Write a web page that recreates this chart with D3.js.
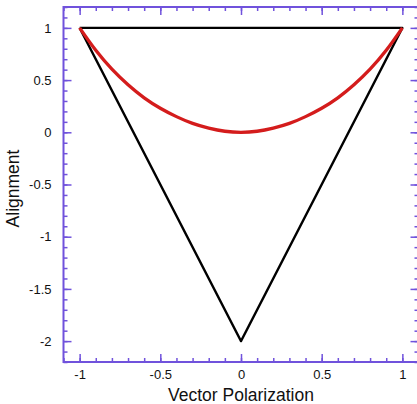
<!DOCTYPE html>
<html>
<head>
  <meta charset="utf-8">
  <title>Alignment vs Vector Polarization</title>
  <script src="https://cdnjs.cloudflare.com/ajax/libs/d3/7.8.5/d3.min.js"></script>
  <style>
    body { margin: 0; background: #fff; }
    text { font-family: "Liberation Sans", Arial, sans-serif; fill: #111; }
  </style>
</head>
<body>
  <div id="vis"></div>
  <script>
var w = 417, h = 404;
var m = {left: 63.5, right: -1.5, top: 7, bottom: 42};

// triangle boundary (black)
var triP = [-1, 1, 0, -1];
var triA = [1, 1, -2, 1];

// red curve
var curveP = [-1, -0.9, -0.8, -0.7, -0.6, -0.5, -0.4, -0.3, -0.2, -0.1, 0, 0.1, 0.2, 0.3, 0.4, 0.5, 0.6, 0.7, 0.8, 0.9, 1];
var curveA = [1, 0.785, 0.605, 0.455, 0.33, 0.23, 0.15, 0.085, 0.04, 0.01, 0, 0.01, 0.04, 0.085, 0.15, 0.23, 0.33, 0.455, 0.605, 0.785, 1];

var xTicks = [-1, -0.5, 0, 0.5, 1];
var yTicks = [1, 0.5, 0, -0.5, -1, -1.5, -2];

var axisColor = "#7052dc";

var x = d3.scaleLinear().domain([-1.1, 1.1]).range([m.left, w - m.right]);
var y = d3.scaleLinear().domain([-2.2, 1.2]).range([h - m.bottom, m.top]);

var svg = d3.select("#vis").append("svg")
  .attr("width", w)
  .attr("height", h);

var xMinor = d3.range(-11, 12).map(function(d) { return d / 10; });
var yMinor = d3.range(-22, 13).map(function(d) { return d / 10; });
var plain = function(d) { return String(d); };

function styleAxis(g) {
  g.select(".domain").remove();
  g.selectAll(".tick line").attr("stroke", axisColor).attr("stroke-width", 1.5);
  g.selectAll(".tick text").style("font-size", "13px");
}

// minor ticks, inward on all four sides
svg.append("g").attr("transform", "translate(0," + y.range()[0] + ")")
  .call(d3.axisBottom(x).tickValues(xMinor).tickSize(-4).tickFormat(""))
  .call(styleAxis);
svg.append("g").attr("transform", "translate(0," + y.range()[1] + ")")
  .call(d3.axisTop(x).tickValues(xMinor).tickSize(-4).tickFormat(""))
  .call(styleAxis);
svg.append("g").attr("transform", "translate(" + x.range()[0] + ",0)")
  .call(d3.axisLeft(y).tickValues(yMinor).tickSize(-4).tickFormat(""))
  .call(styleAxis);
svg.append("g").attr("transform", "translate(" + x.range()[1] + ",0)")
  .call(d3.axisRight(y).tickValues(yMinor).tickSize(-4).tickFormat(""))
  .call(styleAxis);

// major ticks
svg.append("g").attr("transform", "translate(0," + y.range()[0] + ")")
  .call(d3.axisBottom(x).tickValues(xTicks).tickSize(-8).tickPadding(8).tickFormat(plain))
  .call(styleAxis);
svg.append("g").attr("transform", "translate(0," + y.range()[1] + ")")
  .call(d3.axisTop(x).tickValues(xTicks).tickSize(-8).tickFormat(""))
  .call(styleAxis);
svg.append("g").attr("transform", "translate(" + x.range()[0] + ",0)")
  .call(d3.axisLeft(y).tickValues(yTicks).tickSize(-8).tickPadding(12).tickFormat(plain))
  .call(styleAxis);
svg.append("g").attr("transform", "translate(" + x.range()[1] + ",0)")
  .call(d3.axisRight(y).tickValues(yTicks).tickSize(-8).tickFormat(""))
  .call(styleAxis);

// frame
svg.append("rect")
  .attr("x", x.range()[0]).attr("y", y.range()[1])
  .attr("width", x.range()[1] - x.range()[0])
  .attr("height", y.range()[0] - y.range()[1])
  .attr("fill", "none")
  .attr("stroke", axisColor)
  .attr("stroke-width", 2);

var tri = triP.map(function(d, i) { return [d, triA[i]]; });
var curve = curveP.map(function(d, i) { return [d, curveA[i]]; });

svg.append("path")
  .datum(tri)
  .attr("fill", "none")
  .attr("stroke", "#000")
  .attr("stroke-width", 2.3)
  .attr("stroke-linejoin", "round")
  .attr("d", d3.line().x(function(d) { return x(d[0]); }).y(function(d) { return y(d[1]); }));

svg.append("path")
  .datum(curve)
  .attr("fill", "none")
  .attr("stroke", "#d41c1c")
  .attr("stroke-width", 3.3)
  .attr("d", d3.line().curve(d3.curveNatural).x(function(d) { return x(d[0]); }).y(function(d) { return y(d[1]); }));

svg.append("text")
  .attr("x", x(0))
  .attr("y", 401)
  .attr("text-anchor", "middle")
  .style("font-size", "17.5px")
  .text("Vector Polarization");

svg.append("text")
  .attr("transform", "translate(19," + (y(-0.5) + 4) + ") rotate(-90)")
  .attr("text-anchor", "middle")
  .style("font-size", "17.5px")
  .text("Alignment");
  </script>
</body>
</html>
